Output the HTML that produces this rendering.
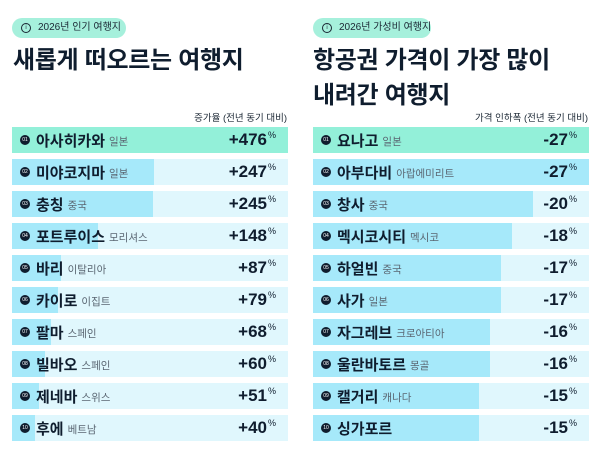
<!DOCTYPE html>
<html><head><meta charset="utf-8"><style>
*{margin:0;padding:0;box-sizing:border-box}
body{width:600px;height:451px;background:#fff;position:relative;overflow:hidden;font-family:"Liberation Sans","Noto Sans CJK KR",sans-serif;color:#0f1d2e}
.pill{position:absolute;top:18px;height:20px;border-radius:10px;background:#a6f0dc;font-size:10px;line-height:20px;padding-left:26px;color:#1a2633;white-space:nowrap}
.pill:before{content:"i";position:absolute;left:9px;top:5px;width:8px;height:8px;border:1px solid #1a2633;border-radius:50%;font-size:6px;line-height:8px;text-align:center}
.title{position:absolute;font-size:24px;font-weight:bold;line-height:35px;letter-spacing:-0.3px;white-space:nowrap}
.sub{position:absolute;top:110px;font-size:9.5px;color:#1a2633;text-align:right}
.row{position:absolute;height:26px;width:276px;background:#e0f7fd;overflow:hidden}
.bar{position:absolute;left:0;top:0;height:26px;background:#a6e9fa}
.row.first{background:#93f0d9}
.row.first .bar{background:#93f0d9}
.num{position:absolute;left:8px;top:8px;width:10px;height:10px;border-radius:50%;background:#0f1d2e;color:#fff;font-size:5px;line-height:10px;text-align:center}
.name{position:absolute;left:24px;top:0;height:26px;display:flex;align-items:center;font-size:15px;font-weight:bold;white-space:nowrap}
.name span{font-size:10.5px;font-weight:normal;color:#5a6672;margin-left:4px;position:relative;top:1px}
.val{position:absolute;right:12px;top:0;height:26px;display:flex;align-items:center;font-size:17px;font-weight:bold}
.val i{font-style:normal;font-size:9px;font-weight:normal;position:relative;top:-5px;margin-left:1px}
</style></head><body>
<div class="pill" style="left:12px;width:114px">2026년 인기 여행지</div>
<div class="title" style="left:13px;top:43px">새롭게 떠오르는 여행지</div>
<div class="sub" style="right:313px">증가율 (전년 동기 대비)</div>
<div class="pill" style="left:313px;width:118px">2026년 가성비 여행지</div>
<div class="title" style="left:313px;top:43px">항공권 가격이 가장 많이<br>내려간 여행지</div>
<div class="sub" style="right:12px">가격 인하폭 (전년 동기 대비)</div>

<div class="row first" style="left:12px;top:127px"><div class="bar" style="width:276px"></div><div class="num">01</div><div class="name">아사히카와<span>일본</span></div><div class="val">+476<i>%</i></div></div>
<div class="row" style="left:12px;top:159px"><div class="bar" style="width:142px"></div><div class="num">02</div><div class="name">미야코지마<span>일본</span></div><div class="val">+247<i>%</i></div></div>
<div class="row" style="left:12px;top:191px"><div class="bar" style="width:141px"></div><div class="num">03</div><div class="name">충칭<span>중국</span></div><div class="val">+245<i>%</i></div></div>
<div class="row" style="left:12px;top:223px"><div class="bar" style="width:86px"></div><div class="num">04</div><div class="name">포트루이스<span>모리셔스</span></div><div class="val">+148<i>%</i></div></div>
<div class="row" style="left:12px;top:255px"><div class="bar" style="width:49px"></div><div class="num">05</div><div class="name">바리<span>이탈리아</span></div><div class="val">+87<i>%</i></div></div>
<div class="row" style="left:12px;top:287px"><div class="bar" style="width:46px"></div><div class="num">06</div><div class="name">카이로<span>이집트</span></div><div class="val">+79<i>%</i></div></div>
<div class="row" style="left:12px;top:319px"><div class="bar" style="width:39px"></div><div class="num">07</div><div class="name">팔마<span>스페인</span></div><div class="val">+68<i>%</i></div></div>
<div class="row" style="left:12px;top:351px"><div class="bar" style="width:33px"></div><div class="num">08</div><div class="name">빌바오<span>스페인</span></div><div class="val">+60<i>%</i></div></div>
<div class="row" style="left:12px;top:383px"><div class="bar" style="width:27px"></div><div class="num">09</div><div class="name">제네바<span>스위스</span></div><div class="val">+51<i>%</i></div></div>
<div class="row" style="left:12px;top:415px"><div class="bar" style="width:23px"></div><div class="num">10</div><div class="name">후에<span>베트남</span></div><div class="val">+40<i>%</i></div></div>

<div class="row first" style="left:313px;top:127px"><div class="bar" style="width:276px"></div><div class="num">01</div><div class="name">요나고<span>일본</span></div><div class="val">-27<i>%</i></div></div>
<div class="row" style="left:313px;top:159px"><div class="bar" style="width:276px"></div><div class="num">02</div><div class="name">아부다비<span>아랍에미리트</span></div><div class="val">-27<i>%</i></div></div>
<div class="row" style="left:313px;top:191px"><div class="bar" style="width:220px"></div><div class="num">03</div><div class="name">창사<span>중국</span></div><div class="val">-20<i>%</i></div></div>
<div class="row" style="left:313px;top:223px"><div class="bar" style="width:199px"></div><div class="num">04</div><div class="name">멕시코시티<span>멕시코</span></div><div class="val">-18<i>%</i></div></div>
<div class="row" style="left:313px;top:255px"><div class="bar" style="width:188px"></div><div class="num">05</div><div class="name">하얼빈<span>중국</span></div><div class="val">-17<i>%</i></div></div>
<div class="row" style="left:313px;top:287px"><div class="bar" style="width:188px"></div><div class="num">06</div><div class="name">사가<span>일본</span></div><div class="val">-17<i>%</i></div></div>
<div class="row" style="left:313px;top:319px"><div class="bar" style="width:177px"></div><div class="num">07</div><div class="name">자그레브<span>크로아티아</span></div><div class="val">-16<i>%</i></div></div>
<div class="row" style="left:313px;top:351px"><div class="bar" style="width:177px"></div><div class="num">08</div><div class="name">울란바토르<span>몽골</span></div><div class="val">-16<i>%</i></div></div>
<div class="row" style="left:313px;top:383px"><div class="bar" style="width:166px"></div><div class="num">09</div><div class="name">캘거리<span>캐나다</span></div><div class="val">-15<i>%</i></div></div>
<div class="row" style="left:313px;top:415px"><div class="bar" style="width:166px"></div><div class="num">10</div><div class="name">싱가포르</div><div class="val">-15<i>%</i></div></div>
</body></html>
